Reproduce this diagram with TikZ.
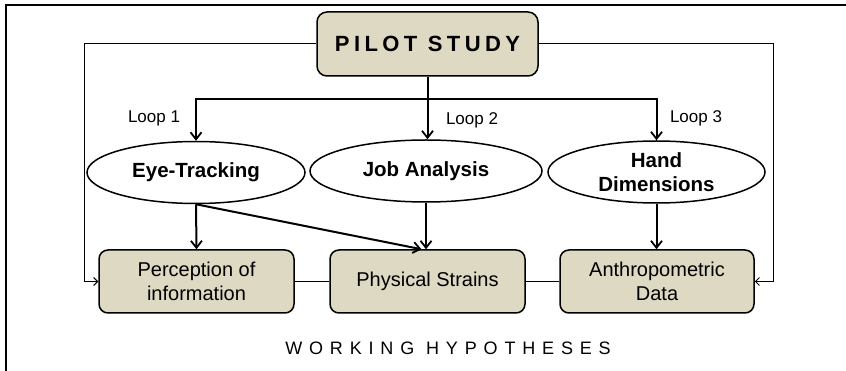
\documentclass[tikz,border=0pt]{standalone}
\usepackage{fontspec}
\setmainfont{Liberation Sans}
\newfontfamily\pilotfont[LetterSpace=20]{Liberation Sans}
\newfontfamily\hypfont[LetterSpace=38]{Liberation Sans}
\usetikzlibrary{shapes.geometric,arrows.meta}
\definecolor{tanfill}{RGB}{221,217,195}
\begin{document}
\begin{tikzpicture}[x=1pt,y=-1pt,
  hbox/.style={draw, line width=1.5pt, fill=tanfill, rounded corners=9pt,
    minimum width=195pt, minimum height=63pt, inner sep=0pt, align=center,
    font=\fontsize{20}{23.5}\selectfont},
  oval/.style={draw, line width=1.5pt, ellipse, minimum height=62pt, inner sep=0pt,
    align=center, font=\fontsize{20.5}{24}\selectfont\bfseries},
  looplabel/.style={font=\fontsize{17}{20}\selectfont, inner sep=0pt},
  feed/.style={line width=2pt, -{Straight Barb[length=7pt,width=11pt,line width=1.8pt]}},
  back/.style={line width=1pt, -{Straight Barb[length=4pt,width=8pt,line width=1pt]}},
  link/.style={line width=1pt}]
\useasboundingbox (0,0) rectangle (846,371);
% open frame: top and left edges only
\draw[line width=2pt] (6,371) -- (6,5) -- (846,5);

\node[hbox, rounded corners=10pt, minimum width=221pt, minimum height=64pt,
  font=\pilotfont\fontsize{22}{26}\selectfont\bfseries] (pilot) at (427.5,44) {PILOT STUDY};

\node[oval, minimum width=218pt] (eye)  at (196,172.5) {Eye-Tracking};
\node[oval, minimum width=232pt] (job)  at (426,171) {Job Analysis};
\node[oval, minimum width=217pt] (hand) at (656.5,172) {Hand\\Dimensions};

\node[hbox] (perc) at (196.5,281.5) {Perception of\\information};
\node[hbox] (phys) at (427.5,281.5) {Physical Strains};
\node[hbox, minimum width=194pt] (anth) at (657,281.5) {Anthropometric\\Data};

\node[looplabel] (l1) at (154,118) {Loop 1};
\node[looplabel] (l2) at (472,120) {Loop 2};
\node[looplabel] (l3) at (696,118) {Loop 3};

\node[font=\hypfont\fontsize{18}{21}\selectfont, inner sep=0pt] (hyp) at (448,348) {WORKING HYPOTHESES};

% branching from the pilot study to the three loops
\coordinate (split) at (427.5,99);
\draw[line width=2pt] (pilot.south) -- (split);
\draw[feed] (split) -| (eye.north);
\draw[feed] (split) -- (job.north -| split);
\draw[feed] (split) -| (hand.north);

% from the methods to the hypotheses
\draw[feed] (eye.south) -- (perc.north);
\draw[feed] (eye.south) -- ([xshift=-6pt]phys.north);
\draw[feed] (job.south) -- (job.south |- phys.north);
\draw[feed] (hand.south) -- (hand.south |- anth.north);

% links between the hypotheses
\draw[link] (perc.east) -- (phys.west);
\draw[link] (phys.east) -- (anth.west);

% side feedback lines
\coordinate (lc) at (84,44);
\coordinate (rc) at (773,44);
\draw[back] (pilot.west) -- (lc) |- (perc.west);
\draw[back] (pilot.east) -- (rc) |- (anth.east);
\end{tikzpicture}
\end{document}
